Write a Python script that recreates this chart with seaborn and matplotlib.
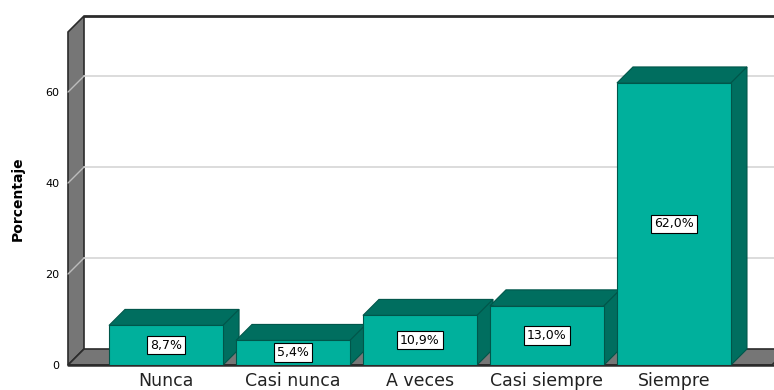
import matplotlib
matplotlib.use("Agg")
import matplotlib.pyplot as plt
import seaborn as sns
import pandas as pd
from matplotlib.patches import Polygon

categories = ["Nunca", "Casi nunca", "A veces", "Casi siempre", "Siempre"]
percentages = [8.7, 5.4, 10.9, 13.0, 62.0]
value_labels = ["8,7%", "5,4%", "10,9%", "13,0%", "62,0%"]
y_ticks = [0, 20, 40, 60]

df = pd.DataFrame({"cat": categories, "pct": percentages})

sns.set_theme(style="white")
plt.rcParams["font.family"] = ["DejaVu Sans"]

W, H = 774, 390
fig = plt.figure(figsize=(W / 100, H / 100), dpi=100)
left_px, right_px, top_px, bot_px = 68, 772, 32, 365
ax = fig.add_axes([left_px / W, 1 - bot_px / H, (right_px - left_px) / W, (bot_px - top_px) / H])

FRONT = "#00b09c"
DARK = "#006e5f"
EDGE = "#00564a"
WALL = "#767676"
LINE = "#2b2b2b"

sns.barplot(data=df, x="cat", y="pct", ax=ax, color=FRONT, saturation=1,
            width=0.898, edgecolor=EDGE, linewidth=0.8, zorder=3)

xmin, xmax = -0.772, 4.772
ymax = 73.2
ax.set_xlim(xmin, xmax)
ax.set_ylim(0, ymax)
for s in ax.spines.values():
    s.set_visible(False)

DEPTH = 16
ax_w = right_px - left_px
ax_h = bot_px - top_px
dx = DEPTH * (xmax - xmin) / ax_w
dy = DEPTH * ymax / ax_h

def poly(pts, fc, ec, lw, z):
    p = Polygon(pts, closed=True, facecolor=fc, edgecolor=ec, linewidth=lw,
                zorder=z, clip_on=False, joinstyle="miter")
    ax.add_patch(p)

# left wall
poly([(xmin, 0), (xmin + dx, dy), (xmin + dx, ymax + dy), (xmin, ymax)], WALL, LINE, 1.2, 0.5)
# floor
poly([(xmin, 0), (xmax, 0), (xmax + dx, dy), (xmin + dx, dy)], WALL, LINE, 1.2, 0.5)
# back wall top line and front baseline
ax.plot([xmin + dx, xmax + dx + 1], [ymax + dy, ymax + dy], color=LINE, lw=2, zorder=0.6, clip_on=False)
ax.plot([xmin, xmax + 1], [0, 0], color=LINE, lw=1.8, zorder=0.7, clip_on=False)

# gridlines on back wall + wall diagonals
for t in y_ticks[1:]:
    ax.plot([xmin + dx, xmax + dx + 1], [t + dy, t + dy], color="#d9d9d9", lw=1.3, zorder=0.8, clip_on=False)
    ax.plot([xmin, xmin + dx], [t, t + dy], color="#bcbcbc", lw=1.0, zorder=0.8, clip_on=False)

# 3D tops and sides of the bars
bars = list(ax.patches)[:len(categories)]
for bar, lab in zip(bars, value_labels):
    x0 = bar.get_x()
    x1 = x0 + bar.get_width()
    h = bar.get_height()
    poly([(x0, h), (x1, h), (x1 + dx, h + dy), (x0 + dx, h + dy)], DARK, EDGE, 0.8, 2)
    poly([(x1, 0), (x1 + dx, dy), (x1 + dx, h + dy), (x1, h)], DARK, EDGE, 0.8, 2)
    ax.text((x0 + x1) / 2, h / 2, lab, ha="center", va="center", fontsize=9, color="black",
            zorder=6, bbox=dict(boxstyle="square,pad=0.22", fc="white", ec="black", lw=0.8))

ax.set_yticks(y_ticks)
ax.set_yticklabels([str(t) for t in y_ticks])
ax.tick_params(axis="y", labelsize=8, length=0, pad=6, colors="black")
ax.tick_params(axis="x", labelsize=12.5, length=0, pad=5, colors="#222222")
ax.set_xlabel("")
ax.set_ylabel("")
fig.text(18 / W, 1 - 199 / H, "Porcentaje", rotation=90, ha="center", va="center",
         fontsize=10, fontweight="bold", color="black")

fig.savefig("out.png", dpi=100)
